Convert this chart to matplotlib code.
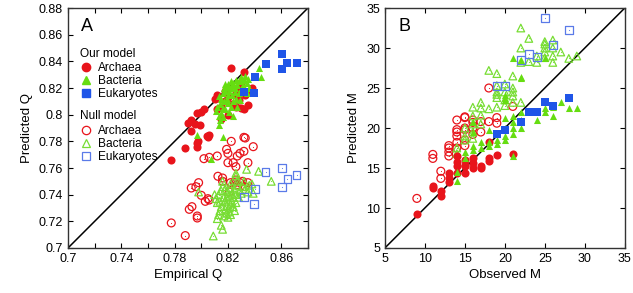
import matplotlib
matplotlib.use('Agg')
import matplotlib.pyplot as plt
import numpy as np
from matplotlib.lines import Line2D

plt.rcParams['font.family'] = ['Liberation Sans', 'DejaVu Sans']

# ---- panel A: predicted vs empirical Q ----
qa_ours = [(0.777, 0.766), (0.788, 0.775), (0.797, 0.776), (0.797, 0.779), (0.7975, 0.780),
           (0.792, 0.788), (0.790, 0.794), (0.792, 0.796), (0.795, 0.793), (0.799, 0.792),
           (0.797, 0.801), (0.802, 0.804), (0.800, 0.802), (0.805, 0.783), (0.806, 0.785),
           (0.804, 0.784), (0.810, 0.812), (0.812, 0.804), (0.815, 0.806), (0.818, 0.810),
           (0.820, 0.813), (0.822, 0.835), (0.832, 0.832), (0.823, 0.808), (0.826, 0.806),
           (0.828, 0.811), (0.830, 0.805), (0.832, 0.804), (0.835, 0.807), (0.833, 0.815),
           (0.838, 0.820), (0.836, 0.817), (0.818, 0.818), (0.825, 0.815), (0.828, 0.818),
           (0.830, 0.822), (0.815, 0.797), (0.820, 0.800), (0.827, 0.820), (0.812, 0.815)]
qb_ours = [(0.797, 0.785), (0.807, 0.767), (0.816, 0.783), (0.813, 0.792), (0.814, 0.796),
           (0.813, 0.799), (0.815, 0.801), (0.811, 0.803), (0.812, 0.806), (0.814, 0.808),
           (0.816, 0.805), (0.817, 0.810), (0.815, 0.812), (0.813, 0.814), (0.816, 0.816),
           (0.818, 0.818), (0.817, 0.820), (0.819, 0.821), (0.820, 0.815), (0.821, 0.818),
           (0.822, 0.820), (0.823, 0.822), (0.820, 0.823), (0.824, 0.824), (0.826, 0.826),
           (0.825, 0.820), (0.827, 0.822), (0.828, 0.825), (0.829, 0.827), (0.830, 0.828),
           (0.832, 0.826), (0.833, 0.829), (0.834, 0.824), (0.835, 0.827), (0.831, 0.822),
           (0.828, 0.816), (0.826, 0.812), (0.824, 0.810), (0.822, 0.806), (0.820, 0.809),
           (0.818, 0.804), (0.824, 0.799), (0.827, 0.806), (0.829, 0.811), (0.832, 0.818),
           (0.836, 0.820), (0.843, 0.835), (0.845, 0.828), (0.819, 0.812), (0.823, 0.815),
           (0.821, 0.802), (0.816, 0.798), (0.830, 0.819), (0.834, 0.816), (0.825, 0.817),
           (0.818, 0.823), (0.822, 0.825)]
qe_ours = [(0.8603, 0.8455), (0.8645, 0.8385), (0.8715, 0.839), (0.8607, 0.8345),
           (0.8482, 0.8378), (0.8403, 0.8285), (0.832, 0.8173), (0.8395, 0.8165)]

qa_null = [(0.7775, 0.7188), (0.788, 0.7093), (0.791, 0.729), (0.793, 0.731), (0.797, 0.724),
           (0.797, 0.7225), (0.7925, 0.745), (0.798, 0.749), (0.796, 0.746), (0.800, 0.7395),
           (0.803, 0.735), (0.806, 0.736), (0.805, 0.737), (0.802, 0.767), (0.806, 0.768),
           (0.812, 0.769), (0.816, 0.7525), (0.816, 0.750), (0.819, 0.774), (0.820, 0.771),
           (0.8225, 0.780), (0.820, 0.764), (0.824, 0.764), (0.826, 0.761), (0.827, 0.769),
           (0.829, 0.771), (0.832, 0.7725), (0.832, 0.783), (0.833, 0.7825), (0.839, 0.776),
           (0.835, 0.764), (0.822, 0.749), (0.825, 0.749), (0.827, 0.7475), (0.829, 0.749),
           (0.833, 0.746), (0.835, 0.749), (0.821, 0.742), (0.831, 0.750), (0.826, 0.751),
           (0.8125, 0.7538)]
qb_null = [(0.809, 0.709), (0.816, 0.714), (0.815, 0.717), (0.798, 0.742), (0.834, 0.759),
           (0.843, 0.7575), (0.8525, 0.750), (0.826, 0.754), (0.826, 0.756), (0.838, 0.748),
           (0.839, 0.741), (0.812, 0.722), (0.813, 0.725), (0.814, 0.728), (0.815, 0.731),
           (0.812, 0.734), (0.811, 0.737), (0.813, 0.740), (0.815, 0.743), (0.816, 0.746),
           (0.818, 0.744), (0.817, 0.738), (0.818, 0.735), (0.819, 0.732), (0.818, 0.729),
           (0.819, 0.726), (0.820, 0.723), (0.821, 0.727), (0.821, 0.730), (0.822, 0.733),
           (0.820, 0.736), (0.821, 0.739), (0.820, 0.742), (0.822, 0.745), (0.823, 0.741),
           (0.824, 0.738), (0.823, 0.735), (0.824, 0.731), (0.825, 0.728), (0.822, 0.725),
           (0.826, 0.734), (0.826, 0.740), (0.825, 0.744), (0.827, 0.747), (0.829, 0.743),
           (0.828, 0.738), (0.830, 0.741), (0.831, 0.746), (0.832, 0.750), (0.833, 0.744),
           (0.827, 0.750), (0.816, 0.750), (0.814, 0.735), (0.817, 0.724), (0.819, 0.738),
           (0.822, 0.748), (0.810, 0.740), (0.836, 0.747), (0.835, 0.742)]
qe_null = [(0.8603, 0.7598), (0.8715, 0.7548), (0.8647, 0.7515), (0.8607, 0.746),
           (0.8482, 0.757), (0.8403, 0.7445), (0.832, 0.7385), (0.8395, 0.733)]

# ---- panel B: predicted vs observed M ----
ma_ours = [(9, 9.3), (11, 12.5), (11, 12.7), (12, 11.5), (12, 12.1), (13, 13.3), (13, 13.8),
           (13, 14.4), (14, 14.4), (14, 15.2), (14, 15.8), (14, 16.5), (15, 14.4), (15, 15.2),
           (15, 15.4), (15, 16.0), (16, 15.0), (16, 15.6), (16, 16.2), (17, 15.0), (17, 15.3),
           (18, 15.9), (18, 16.3), (18, 18.3), (19, 16.6), (21, 16.7)]
mb_ours = [(14, 13.4), (14, 14.5), (15, 16.3), (15, 17.0), (16, 17.3), (16, 17.7), (16, 19.5),
           (17, 17.5), (17, 18.2), (18, 18.3), (18, 19.8), (18, 17.8), (19, 18.0), (19, 18.5),
           (19, 19.3), (20, 18.5), (20, 19.0), (20, 20.0), (20, 21.2), (20, 23.5), (20, 23.8),
           (20, 24.1), (21, 16.5), (21, 19.2), (21, 20.0), (21, 20.7), (21, 21.5), (22, 20.0),
           (22, 21.0), (22, 22.0), (22, 26.2), (22, 26.4), (21, 28.7), (22, 28.5), (24, 21.0),
           (25, 22.0), (25, 22.5), (25, 28.7), (26, 21.5), (26, 22.6), (27, 23.2), (28, 22.5),
           (29, 22.5), (16, 20.7)]
me_ours = [(19, 19.3), (20, 19.7), (22, 20.8), (23, 22.0), (24, 22.0), (25, 23.2), (26, 22.8),
           (28, 23.7)]

ma_null = [(9, 11.2), (11, 16.2), (11, 16.7), (12, 13.7), (12, 14.6), (13, 16.5), (13, 17.0),
           (13, 17.5), (13, 17.8), (14, 17.5), (14, 18.2), (14, 19.0), (14, 19.5), (14, 19.8),
           (14, 21.0), (15, 17.8), (15, 18.5), (15, 19.8), (15, 20.0), (15, 21.3), (15, 21.4),
           (16, 19.2), (16, 20.0), (16, 20.7), (16, 21.0), (17, 19.5), (17, 20.8), (18, 20.8),
           (18, 25.0), (19, 20.6), (19, 21.3), (21, 22.7)]
mb_null = [(14, 16.8), (14, 17.5), (15, 18.5), (15, 19.0), (15, 20.0), (16, 18.7), (16, 19.5),
           (16, 20.5), (16, 21.5), (16, 22.6), (17, 20.5), (17, 21.6), (17, 22.5), (17, 23.2),
           (18, 22.4), (18, 27.2), (19, 22.6), (19, 23.8), (19, 24.2), (19, 24.5), (19, 25.3),
           (19, 26.8), (20, 22.8), (20, 23.5), (20, 24.5), (20, 25.5), (21, 23.2), (21, 24.0),
           (21, 24.5), (21, 25.0), (21, 26.5), (22, 23.2), (22, 28.2), (22, 30.0), (22, 32.5),
           (23, 28.3), (23, 31.2), (24, 28.2), (24, 29.0), (25, 28.8), (25, 29.5), (25, 30.0),
           (25, 30.5), (25, 30.8), (26, 28.2), (26, 29.0), (26, 30.0), (26, 31.0), (27, 29.5),
           (28, 28.7), (29, 29.0)]
me_null = [(19, 25.2), (20, 25.2), (22, 28.5), (23, 29.3), (24, 28.9), (25, 33.7), (26, 30.4),
           (28, 32.2)]

RED = '#e8141b'
GREEN = '#66dd11'
BLUE = '#1f55e8'
BLUE_L = '#5a7ae8'
GREEN_L = '#77dd33'

fig = plt.figure(figsize=(6.33, 2.93), dpi=100)
axA = fig.add_axes([0.1074, 0.1536, 0.379, 0.819])
axB = fig.add_axes([0.608, 0.1536, 0.379, 0.819])


def filled(ax, pts, color, marker, s):
    p = np.array(pts)
    ax.scatter(p[:, 0], p[:, 1], s=s, c=color, marker=marker, linewidths=0, zorder=3)


def hollow(ax, pts, color, marker, s):
    p = np.array(pts)
    ax.scatter(p[:, 0], p[:, 1], s=s, facecolors='none', edgecolors=color,
               marker=marker, linewidths=0.9, zorder=3)
    ax.scatter(p[:, 0], p[:, 1], s=0.6, c=color, marker='o', linewidths=0, zorder=3)


for ax, lo, hi in [(axA, 0.7, 0.88), (axB, 5, 35)]:
    ax.plot([lo, hi], [lo, hi], color='black', lw=1.1, zorder=2)
    ax.set_xlim(lo, hi)
    ax.set_ylim(lo, hi)
    ax.tick_params(direction='in', top=True, right=True, labelsize=9, length=3.5, width=0.8)
    for sp in ax.spines.values():
        sp.set_linewidth(1.0)
        sp.set_color('#333333')

# panel A
hollow(axA, qa_null, RED, 'o', 32)
hollow(axA, qb_null, GREEN_L, '^', 30)
hollow(axA, qe_null, BLUE_L, 's', 32)
filled(axA, qa_ours, RED, 'o', 34)
filled(axA, qb_ours, GREEN, '^', 26)
filled(axA, qe_ours, BLUE, 's', 32)

xt = np.round(np.arange(0.70, 0.881, 0.02), 2)
axA.set_xticks(xt)
axA.set_xticklabels([('%g' % v) if i % 2 == 0 else '' for i, v in enumerate(xt)])
axA.set_yticks(xt)
axA.set_yticklabels(['%g' % v for v in xt])
axA.set_xlabel('Empirical Q', fontsize=9.5, labelpad=3)
axA.set_ylabel('Predicted Q', fontsize=9.5, labelpad=4)
axA.text(0.055, 0.905, 'A', transform=axA.transAxes, fontsize=13)

# legends in panel A
h_ours = [Line2D([], [], ls='none', marker='o', ms=6, color=RED, mec=RED),
          Line2D([], [], ls='none', marker='^', ms=5.5, color=GREEN, mec=GREEN),
          Line2D([], [], ls='none', marker='s', ms=5.5, color=BLUE, mec=BLUE)]
h_null = [Line2D([], [], ls='none', marker='o', ms=6, mfc='none', mec=RED, mew=0.9),
          Line2D([], [], ls='none', marker='^', ms=6, mfc='none', mec=GREEN_L, mew=0.9),
          Line2D([], [], ls='none', marker='s', ms=6, mfc='none', mec=BLUE_L, mew=0.9)]
names = ['Archaea', 'Bacteria', 'Eukaryotes']
kw = dict(loc='upper left', frameon=False, fontsize=8.6, title_fontsize=8.6,
          handlelength=1.0, handletextpad=0.5, labelspacing=0.08, borderpad=0,
          borderaxespad=0, handleheight=0.6)
leg1 = axA.legend(h_ours, names, title='Our model', bbox_to_anchor=(0.05, 0.835), **kw)
leg1._legend_box.align = 'left'
leg1._legend_box.sep = 2
axA.add_artist(leg1)
leg2 = axA.legend(h_null, names, title='Null model', bbox_to_anchor=(0.05, 0.575), **kw)
leg2._legend_box.align = 'left'
leg2._legend_box.sep = 2

# panel B
hollow(axB, ma_null, RED, 'o', 32)
hollow(axB, mb_null, GREEN_L, '^', 30)
hollow(axB, me_null, BLUE_L, 's', 32)
filled(axB, ma_ours, RED, 'o', 34)
filled(axB, mb_ours, GREEN, '^', 26)
filled(axB, me_ours, BLUE, 's', 32)
axB.set_xticks(np.arange(5, 36, 5))
axB.set_yticks(np.arange(5, 36, 5))
axB.set_xlabel('Observed M', fontsize=9.5, labelpad=3)
axB.set_ylabel('Predicted M', fontsize=9.5, labelpad=4)
axB.text(0.055, 0.905, 'B', transform=axB.transAxes, fontsize=13)

fig.savefig('out.png', dpi=100)
